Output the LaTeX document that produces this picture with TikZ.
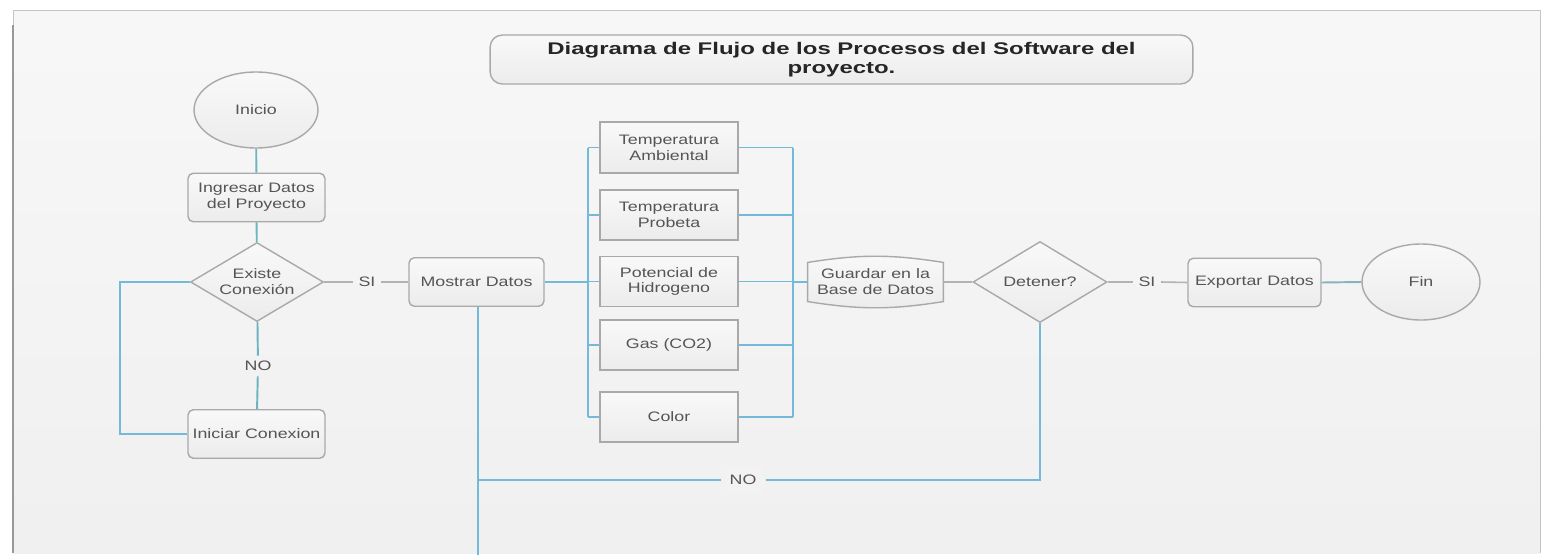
\documentclass[tikz,border=0pt]{standalone}
\usepackage{fontspec}
\setmainfont{Liberation Sans}
\newfontfamily\diagfont[FakeStretch=1.3]{Liberation Sans}
\newfontfamily\titlefont[FakeStretch=1.42]{Liberation Sans}
\usetikzlibrary{shapes.geometric,calc}
\definecolor{panelbd}{HTML}{C4C4C4}
\definecolor{boxbd}{HTML}{A9A9A9}
\definecolor{txt}{HTML}{555555}
\definecolor{flow}{HTML}{72BAD8}
\definecolor{teal}{HTML}{6CB4C0}
\definecolor{grayln}{HTML}{AEB4B4}
\tikzset{
  base/.style={font=\diagfont\fontsize{7.8}{9}\selectfont, text=txt, align=center, inner sep=1pt},
  shade/.style={top color=white!95!gray, bottom color=white!85!gray},
  rbox/.style={base, draw=boxbd, line width=0.8pt, shade, rounded corners=3pt, minimum width=2.72cm, minimum height=0.97cm},
  pbox/.style={base, draw=boxbd, line width=0.8pt, shade, minimum width=2.76cm, minimum height=1.0cm},
  term/.style={base, draw=boxbd, line width=0.8pt, shade, ellipse},
  decis/.style={draw=boxbd, line width=0.8pt, shade, diamond, inner sep=0pt},
  lbl/.style={base, inner sep=3pt},
  fl/.style={draw=flow, line width=1.2pt},
  tl/.style={draw=teal, line width=1.1pt},
  gl/.style={draw=grayln, line width=0.9pt},
}
\begin{document}
\begin{tikzpicture}[x=0.02cm, y=-0.02cm]
\useasboundingbox (0,0) rectangle (1543,555);
\fill[white] (0,0) rectangle (1543,555);
\shade[top color=white!94!gray, bottom color=white!88!gray] (13,10) rectangle (1540,553);
\draw[panelbd, line width=0.5pt] (13,553) -- (13,10) -- (1540,10) -- (1540,553);
\draw[gray!80, line width=1.2pt] (13,25) -- (13,553);

% title
\node[draw=boxbd, line width=0.8pt, shade, rounded corners=7pt, minimum width=14.06cm, minimum height=0.98cm,
      font=\titlefont\fontsize{9.6}{10.5}\selectfont\bfseries, text=black!85, align=center, inner sep=1pt]
  (title) at (841.5,59.5) {Diagrama de Flujo de los Procesos del Software del\\proyecto.};

% left column
\node[term, minimum width=2.48cm, minimum height=1.52cm] (inicio) at (256,110) {Inicio};
\node[rbox, minimum width=2.74cm] (ingresar) at (256.5,197.5) {Ingresar Datos\\del Proyecto};
\node[decis, minimum width=2.66cm, minimum height=1.58cm] (existe) at (257,282) {};
\node[base] (existeT) at (existe.center) {Existe\\Conexión};
\node[lbl] (no1) at (258,366) {NO};
\node[rbox, minimum width=2.74cm] (iniciar) at (256.5,434) {Iniciar Conexion};
\node[lbl] (si1) at (367,282) {SI};
\node[rbox, minimum width=2.70cm] (mostrar) at (476.5,282) {Mostrar Datos};

% process boxes
\node[pbox, minimum height=1.02cm] (ta) at (669,147.5) {Temperatura\\Ambiental};
\node[pbox] (tp) at (669,215) {Temperatura\\Probeta};
\node[pbox] (ph) at (669,281.5) {Potencial de\\Hidrogeno};
\node[pbox] (gas) at (669,345) {Gas (CO2)};
\node[pbox] (col) at (669,417) {Color};

% database
\node[base, minimum width=2.70cm, minimum height=0.98cm] (guardar) at (875.5,282) {};
\path[draw=boxbd, line width=0.8pt, shade]
  ([yshift=-3pt]guardar.north west) to[bend left=9] ([yshift=-3pt]guardar.north east)
  -- ([yshift=3pt]guardar.south east) to[bend left=9] ([yshift=3pt]guardar.south west) -- cycle;
\node[base] (guardarT) at (guardar.center) {Guardar en la\\Base de Datos};

% right part
\node[decis, minimum width=2.68cm, minimum height=1.62cm] (detener) at (1040,282) {};
\node[base] (detenerT) at (detener.center) {Detener?};
\node[lbl] (si2) at (1147,282) {SI};
\node[rbox, minimum width=2.66cm] (exportar) at (1254.5,282.5) {Exportar Datos};
\node[term, minimum width=2.36cm, minimum height=1.52cm] (fin) at (1421,282) {Fin};
\node[lbl, fill=white!90!gray, inner sep=5pt] (no2) at (743,480) {NO};

% coordinates
\coordinate (lpA) at (120,282);
\coordinate (lpB) at (120,434);
\coordinate (bLt) at (588,147.5);
\coordinate (bLm) at (588,282);
\coordinate (bLb) at (588,417);
\coordinate (bRt) at (793,147.5);
\coordinate (bRm) at (793,282);
\coordinate (bRb) at (793,417);
\coordinate (dn) at (478,480);
\coordinate (dbot) at (478,555);
\coordinate (dr) at (1040,480);

% connectors
\draw[tl] (inicio) -- (ingresar);
\draw[tl] (ingresar) -- (existe);
\draw[tl] (existe) -- (no1);
\draw[tl] (no1) -- (iniciar);
\draw[fl] (existe.west) -- (lpA) -- (lpB) -- (iniciar.west);
\draw[gl] (existe.east) -- (si1.west);
\draw[gl] (si1.east) -- (mostrar.west);
\draw[fl] (mostrar.east) -- (bLm);
\draw[fl] (bLt) -- (bLb);
\draw[fl] (bRt) -- (bRb);
\foreach \n/\y in {ta/147.5, tp/215, ph/281.5, gas/345, col/417}{
  \draw[fl, line width=0.8pt] (588,\y) -- (\n.west);
  \draw[fl, line width=0.8pt] (\n.east) -- (793,\y);
}
\draw[fl] (bRm) -- (guardar.west);
\draw[gl] (guardar.east) -- (detener.west);
\draw[gl] (detener.east) -- (si2.west);
\draw[gl] (si2.east) -- (exportar.west);
\draw[tl, draw=teal!60!grayln] (exportar.east) -- (fin.west);
\draw[fl] (mostrar.south -| dn) -- (dbot);
\draw[fl] (dn) -- (no2.west);
\draw[fl] (no2.east) -- (dr) -- (detener.south);
\end{tikzpicture}
\end{document}
